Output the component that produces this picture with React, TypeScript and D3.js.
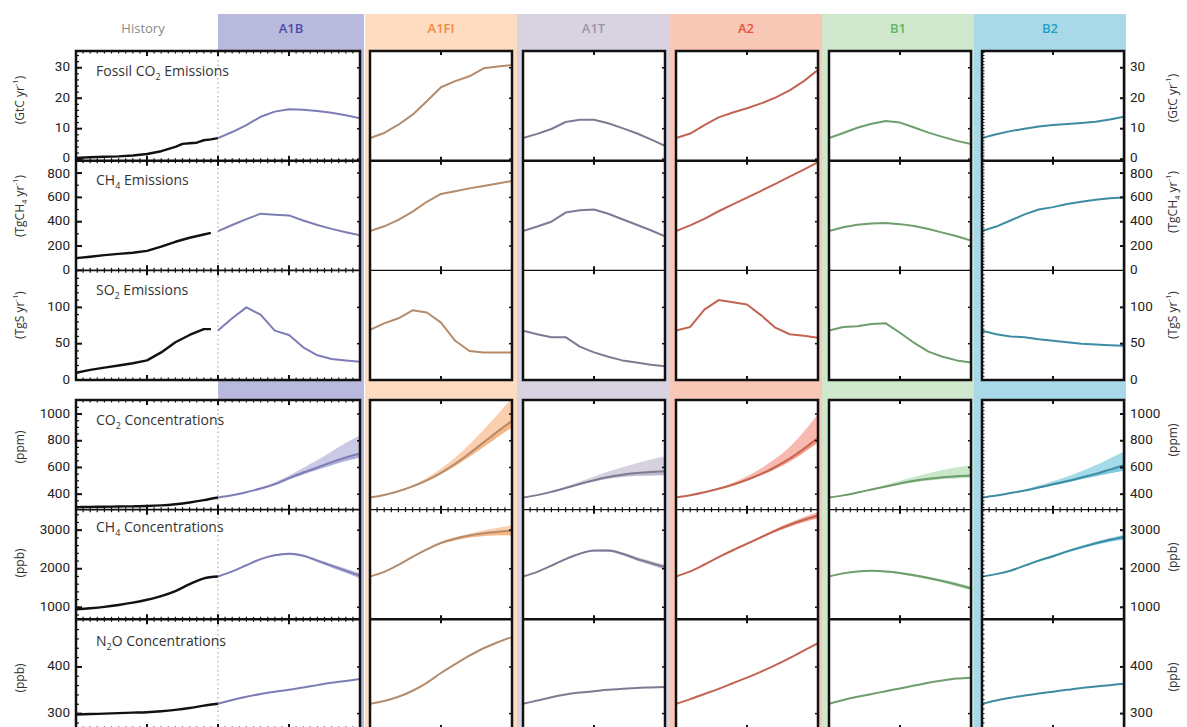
import React from "react";
import * as d3 from "d3";

// ---------------- categories ----------------
const scenarioNames = ["A1B", "A1FI", "A1T", "A2", "B1", "B2"];
const scenarioYears = [2000, 2010, 2020, 2030, 2040, 2050, 2060, 2070, 2080, 2090, 2100];

// ---------------- history ----------------
const histFossilYears = [1900, 1910, 1920, 1930, 1940, 1950, 1960, 1970, 1975, 1980, 1985, 1990, 1995, 2000];
const histFossil = [0.4, 0.6, 0.8, 0.9, 1.2, 1.7, 2.6, 4.0, 5.0, 5.2, 5.4, 6.2, 6.5, 6.9];
const histEmYears = [1900, 1910, 1920, 1930, 1940, 1950, 1960, 1970, 1980, 1990, 1995];
const histCh4Em = [100, 112, 125, 135, 145, 160, 195, 235, 268, 295, 308];
const histSo2 = [10, 14, 17, 20, 23, 27, 38, 52, 62, 70, 70];
const histConcYears = [1900, 1910, 1920, 1930, 1940, 1950, 1960, 1970, 1980, 1990, 2000];
const histCo2Conc = [303, 305, 306, 308, 309, 311, 316, 325, 338, 355, 375];
const histCh4Conc = [950, 975, 1010, 1060, 1120, 1195, 1290, 1420, 1600, 1750, 1800];
const histN2oConc = [298, 299, 300, 301, 302, 303, 305, 308, 312, 317, 321];

// ---------------- fossil CO2 emissions (GtC/yr) ----------------
const fossilA1B = [6.9, 8.9, 11.2, 13.9, 15.6, 16.4, 16.2, 15.8, 15.2, 14.4, 13.4];
const fossilA1FI = [6.9, 8.6, 11.3, 14.6, 19.0, 23.6, 25.6, 27.2, 29.8, 30.4, 30.9];
const fossilA1T = [6.9, 8.3, 9.9, 12.2, 12.9, 12.9, 11.8, 10.2, 8.5, 6.5, 4.4];
const fossilA2 = [6.9, 8.4, 11.2, 13.7, 15.3, 16.7, 18.3, 20.2, 22.6, 25.6, 29.3];
const fossilB1 = [6.9, 8.6, 10.3, 11.6, 12.5, 12.0, 10.4, 8.7, 7.3, 6.0, 5.0];
const fossilB2 = [6.9, 8.2, 9.2, 10.0, 10.7, 11.2, 11.5, 11.9, 12.3, 13.0, 13.9];

// ---------------- CH4 emissions (TgCH4/yr) ----------------
const ch4EmA1B = [323, 373, 421, 466, 458, 452, 410, 373, 341, 314, 289];
const ch4EmA1FI = [323, 362, 415, 483, 564, 628, 651, 674, 693, 714, 735];
const ch4EmA1T = [323, 360, 400, 475, 495, 500, 465, 420, 375, 330, 280];
const ch4EmA2 = [323, 370, 424, 486, 542, 598, 654, 711, 770, 829, 889];
const ch4EmB1 = [323, 355, 375, 385, 390, 380, 365, 340, 310, 280, 245];
const ch4EmB2 = [323, 360, 410, 460, 500, 520, 545, 565, 580, 592, 600];

// ---------------- SO2 emissions (TgS/yr) ----------------
const so2A1B = [68, 85, 100, 90, 68, 62, 45, 34, 29, 27, 25];
const so2A1FI = [69, 78, 85, 96, 93, 79, 54, 40, 38, 38, 38];
const so2A1T = [68, 63, 59, 59, 46, 38, 32, 27, 24, 21, 19];
const so2A2 = [68, 73, 97, 110, 107, 104, 89, 72, 63, 61, 58];
const so2B1 = [68, 73, 74, 77, 78, 65, 51, 39, 32, 27, 24];
const so2B2 = [68, 63, 60, 59, 56, 54, 52, 50, 49, 48, 47];

// ---------------- CO2 concentrations (ppm): central, low, high ----------------
const co2A1B = [375, 392, 415, 442, 475, 520, 562, 600, 640, 675, 705];
const co2A1BLow = [375, 391, 413, 437, 467, 510, 548, 582, 617, 648, 675];
const co2A1BHigh = [375, 393, 418, 450, 490, 540, 595, 655, 720, 785, 842];
const co2A1FI = [375, 394, 422, 458, 504, 560, 628, 705, 788, 870, 950];
const co2A1FILow = [375, 393, 420, 454, 497, 549, 611, 681, 754, 828, 900];
const co2A1FIHigh = [375, 395, 426, 468, 522, 590, 674, 772, 882, 998, 1120];
const co2A1T = [375, 393, 417, 446, 476, 504, 528, 546, 558, 566, 571];
const co2A1TLow = [375, 392, 415, 442, 470, 495, 515, 529, 537, 540, 541];
const co2A1THigh = [375, 394, 421, 455, 494, 532, 569, 602, 632, 659, 683];
const co2A2 = [375, 392, 414, 440, 471, 508, 552, 605, 667, 740, 822];
const co2A2Low = [375, 391, 412, 437, 466, 500, 541, 589, 645, 712, 787];
const co2A2High = [375, 393, 417, 448, 486, 535, 594, 667, 754, 867, 1002];
const co2B1 = [375, 391, 412, 435, 457, 480, 500, 515, 527, 535, 540];
const co2B1Low = [375, 390, 409, 431, 451, 472, 490, 503, 514, 520, 525];
const co2B1High = [375, 392, 415, 443, 471, 501, 531, 557, 581, 601, 616];
const co2B2 = [375, 390, 408, 427, 450, 474, 498, 525, 552, 584, 616];
const co2B2Low = [375, 389, 406, 423, 444, 466, 488, 511, 534, 557, 578];
const co2B2High = [375, 391, 411, 435, 464, 497, 532, 572, 617, 667, 720];

// ---------------- CH4 concentrations (ppb): central, low, high ----------------
const ch4A1B = [1800, 1930, 2090, 2250, 2350, 2390, 2340, 2210, 2080, 1950, 1820];
const ch4A1BLow = [1800, 1925, 2080, 2235, 2330, 2365, 2310, 2175, 2035, 1895, 1750];
const ch4A1BHigh = [1800, 1935, 2100, 2265, 2370, 2415, 2370, 2245, 2125, 2005, 1890];
const ch4A1FI = [1800, 1920, 2100, 2310, 2500, 2670, 2780, 2860, 2920, 2960, 2990];
const ch4A1FILow = [1800, 1915, 2090, 2295, 2480, 2640, 2740, 2810, 2850, 2870, 2870];
const ch4A1FIHigh = [1800, 1925, 2110, 2325, 2520, 2700, 2820, 2910, 2990, 3060, 3120];
const ch4A1T = [1800, 1920, 2080, 2250, 2390, 2470, 2470, 2390, 2260, 2150, 2045];
const ch4A1TLow = [1800, 1915, 2070, 2235, 2370, 2445, 2440, 2355, 2215, 2100, 1980];
const ch4A1THigh = [1800, 1925, 2090, 2265, 2410, 2495, 2500, 2425, 2305, 2200, 2110];
const ch4A2 = [1800, 1930, 2110, 2300, 2480, 2650, 2820, 2990, 3140, 3270, 3390];
const ch4A2Low = [1800, 1925, 2100, 2285, 2460, 2625, 2790, 2950, 3090, 3210, 3310];
const ch4A2High = [1800, 1935, 2120, 2315, 2500, 2675, 2850, 3030, 3190, 3340, 3480];
const ch4B1 = [1800, 1880, 1930, 1945, 1930, 1890, 1830, 1760, 1680, 1590, 1490];
const ch4B1Low = [1800, 1875, 1920, 1930, 1910, 1865, 1800, 1725, 1640, 1545, 1440];
const ch4B1High = [1800, 1885, 1940, 1960, 1950, 1915, 1860, 1795, 1720, 1635, 1540];
const ch4B2 = [1800, 1860, 1950, 2080, 2210, 2325, 2450, 2560, 2660, 2750, 2825];
const ch4B2Low = [1800, 1855, 1940, 2065, 2190, 2300, 2420, 2525, 2620, 2700, 2760];
const ch4B2High = [1800, 1865, 1960, 2095, 2230, 2350, 2480, 2595, 2700, 2800, 2890];

// ---------------- N2O concentrations (ppb) ----------------
const n2oA1B = [321, 329, 336, 342, 347, 351, 356, 361, 366, 370, 374];
const n2oA1FI = [321, 327, 336, 349, 366, 387, 406, 424, 440, 453, 464];
const n2oA1T = [321, 328, 335, 341, 345, 348, 351, 353, 355, 356, 357];
const n2oA2 = [321, 331, 342, 353, 365, 377, 390, 404, 419, 435, 451];
const n2oB1 = [321, 329, 336, 342, 348, 354, 360, 366, 371, 375, 377];
const n2oB2 = [321, 328, 334, 339, 343, 347, 351, 355, 358, 361, 364];

// ---------------- axes ----------------
const rowDomains = [[-0.5, 35.5], [0, 902], [0, 151], [284, 1105], [688, 3532], [267, 502]];
const rowTicks = [[0, 10, 20, 30], [0, 200, 400, 600, 800], [0, 50, 100], [400, 600, 800, 1000], [1000, 2000, 3000], [300, 400]];
const rowMinorStep = [2, 100, 10, 50, 200, 20];
const rowFineStep = [1, 25, 5, 25, 100, 10];
const titleMain = ["Fossil CO", "CH", "SO", "CO", "CH", "N"];
const titleSub = ["2", "4", "2", "2", "4", "2"];
const titleRest = [" Emissions", " Emissions", " Emissions", " Concentrations", " Concentrations", "O Concentrations"];
type Part = { t: string; s?: "sub" | "sup" };
const unitParts: Part[][] = [
  [{ t: "(GtC yr" }, { t: "-1", s: "sup" }, { t: ")" }],
  [{ t: "(TgCH" }, { t: "4", s: "sub" }, { t: " yr" }, { t: "-1", s: "sup" }, { t: ")" }],
  [{ t: "(TgS yr" }, { t: "-1", s: "sup" }, { t: ")" }],
  [{ t: "(ppm)" }],
  [{ t: "(ppb)" }],
  [{ t: "(ppb)" }],
];

// tables built from the arrays above
const mids = [
  [fossilA1B, fossilA1FI, fossilA1T, fossilA2, fossilB1, fossilB2],
  [ch4EmA1B, ch4EmA1FI, ch4EmA1T, ch4EmA2, ch4EmB1, ch4EmB2],
  [so2A1B, so2A1FI, so2A1T, so2A2, so2B1, so2B2],
  [co2A1B, co2A1FI, co2A1T, co2A2, co2B1, co2B2],
  [ch4A1B, ch4A1FI, ch4A1T, ch4A2, ch4B1, ch4B2],
  [n2oA1B, n2oA1FI, n2oA1T, n2oA2, n2oB1, n2oB2],
];
const lows: (number[][] | null)[] = [null, null, null,
  [co2A1BLow, co2A1FILow, co2A1TLow, co2A2Low, co2B1Low, co2B2Low],
  [ch4A1BLow, ch4A1FILow, ch4A1TLow, ch4A2Low, ch4B1Low, ch4B2Low], null];
const highs: (number[][] | null)[] = [null, null, null,
  [co2A1BHigh, co2A1FIHigh, co2A1THigh, co2A2High, co2B1High, co2B2High],
  [ch4A1BHigh, ch4A1FIHigh, ch4A1THigh, ch4A2High, ch4B1High, ch4B2High], null];
const history = [
  { years: histFossilYears, values: histFossil },
  { years: histEmYears, values: histCh4Em },
  { years: histEmYears, values: histSo2 },
  { years: histConcYears, values: histCo2Conc },
  { years: histConcYears, values: histCh4Conc },
  { years: histConcYears, values: histN2oConc },
];

// ---------------- styles / layout ----------------
const headerText = ["#4b4ba6", "#f08a3c", "#9d93a9", "#e9523c", "#5cb85c", "#1e9fc2"];
const headerBg = ["#b9b9dd", "#fddcc1", "#d9d2e0", "#f9c7b6", "#cfe7cd", "#a9d9e8"];
const lineCol = ["#7d7db6", "#b48c6c", "#7b7b93", "#c2644f", "#6e9d6e", "#3e8ca4"];
const bandCol = ["#9e9ed2", "#f7a66a", "#b6aac3", "#f2816f", "#9fd39e", "#5bbcd5"];
const bandX0 = [218, 365, 517, 670, 822, 974];
const bandX1 = [364, 517, 670, 822, 974, 1126];
const colX0 = [76, 370, 523, 676, 829, 982];
const colW = [284, 142, 142, 142, 142, 142];
const EM_TOP = 51, EM_BOT = 380, CO_TOP = 400, CO_BOT = 729;
const RH = (EM_BOT - EM_TOP) / 3;
const rowTop = (r: number) => (r < 3 ? EM_TOP + r * RH : CO_TOP + (r - 3) * RH);
const rowBot = (r: number) => rowTop(r) + RH;
const titleY = [76, 185, 295, 425, 532, 646];
const leftUnitY = [100, 206, 315, 447, 563, 678];
const rightUnitY = [98, 202, 315, 440, 557, 677];
const FONT = "'Open Sans', 'DejaVu Sans', sans-serif";
const TICK_FONT = "Roboto, 'Open Sans', sans-serif";

function PartsText({ parts, x, y, size, rotate }: { parts: Part[]; x: number; y: number; size: number; rotate?: boolean }) {
  let cur = 0;
  const spans = parts.map((p, i) => {
    const target = p.s === "sub" ? size * 0.3 : p.s === "sup" ? -size * 0.4 : 0;
    const dy = target - cur;
    cur = target;
    return (
      <tspan key={i} dy={dy} fontSize={p.s ? size * 0.65 : size}>
        {p.t}
      </tspan>
    );
  });
  return (
    <text x={0} y={0} fontSize={size} fill="#333" textAnchor="middle" dominantBaseline="middle"
      transform={`translate(${x},${y})${rotate ? " rotate(-90)" : ""}`}>
      {spans}
    </text>
  );
}

// tiny nudges so stacked labels at shared row borders don't collide
const labelNudge = (r: number, v: number) => (r === 0 && v === 0 ? -1.2 : r === 1 && v === 800 ? 1.2 : 0);

export default function App() {
  const W = 1187, H = 727;
  const xScales = colX0.map((x0, c) =>
    d3.scaleLinear().domain(c === 0 ? [1900, 2100] : [2000, 2100]).range([x0, x0 + colW[c]]));
  const yScales = rowDomains.map((dom, r) => d3.scaleLinear().domain(dom).range([rowBot(r), rowTop(r)]));

  const cells: React.ReactNode[] = [];
  const ticks: React.ReactNode[] = [];

  for (let r = 0; r < 6; r++) {
    const y = yScales[r];
    const smooth = r >= 3;
    for (let c = 0; c < 6; c++) {
      const x = xScales[c];
      const clipId = `clip-${r}-${c}`;
      const line = d3.line<number>()
        .x((_, i) => x(scenarioYears[i]))
        .y((v) => y(v))
        .curve(smooth ? d3.curveMonotoneX : d3.curveLinear);
      const items: React.ReactNode[] = [];
      const lo = lows[r], hi = highs[r];
      if (lo && hi) {
        const area = d3.area<number>()
          .x((_, i) => x(scenarioYears[i]))
          .y0((_, i) => y(lo[c][i]))
          .y1((_, i) => y(hi[c][i]))
          .curve(d3.curveMonotoneX);
        const inner = d3.area<number>()
          .x((_, i) => x(scenarioYears[i]))
          .y0((_, i) => y(lo[c][i]))
          .y1((_, i) => y(mids[r][c][i]))
          .curve(d3.curveMonotoneX);
        items.push(<path key="band" d={area(scenarioYears) || ""} fill={bandCol[c]} opacity={0.55} />);
        items.push(<path key="inner" d={inner(scenarioYears) || ""} fill={bandCol[c]} opacity={0.6} />);
      }
      if (c === 0) {
        const h = history[r];
        const hl = d3.line<number>()
          .x((_, i) => x(h.years[i]))
          .y((v) => y(v))
          .curve(smooth ? d3.curveMonotoneX : d3.curveLinear);
        items.push(<path key="hist" d={hl(h.values) || ""} fill="none" stroke="#111" strokeWidth={2.4} strokeLinejoin="round" />);
      }
      items.push(<path key="mid" d={line(mids[r][c]) || ""} fill="none" stroke={lineCol[c]} strokeWidth={2} strokeLinejoin="round" />);
      cells.push(
        <g key={clipId}>
          <clipPath id={clipId}>
            <rect x={colX0[c]} y={rowTop(r)} width={colW[c]} height={RH} />
          </clipPath>
          <g clipPath={`url(#${clipId})`}>{items}</g>
        </g>
      );

      // horizontal-edge ticks
      const t = rowTop(r), b = rowBot(r);
      const x0 = colX0[c];
      if (c === 0) {
        d3.range(1905, 2100, 5).forEach((yr) => {
          const major = yr % 50 === 0;
          const len = major ? 5 : 2.5;
          const xx = x(yr);
          ticks.push(<line key={`tt${r}-${c}-${yr}`} x1={xx} x2={xx} y1={t} y2={t + len} stroke="#111" strokeWidth={major ? 2 : 1.2} />);
          ticks.push(<line key={`tb${r}-${c}-${yr}`} x1={xx} x2={xx} y1={b} y2={b - len} stroke="#111" strokeWidth={major ? 2 : 1.2} />);
        });
        // left axis ticks
        const [d0, d1] = rowDomains[r];
        d3.range(Math.ceil(d0 / rowMinorStep[r]) * rowMinorStep[r], d1, rowMinorStep[r]).forEach((v) => {
          const yy = y(v);
          if (yy > b - 1 || yy < t + 1) return;
          ticks.push(<line key={`lm${r}-${v}`} x1={x0} x2={x0 + 3} y1={yy} y2={yy} stroke="#111" strokeWidth={1.2} />);
        });
        rowTicks[r].forEach((v) => {
          const yy = y(v);
          ticks.push(<line key={`lM${r}-${v}`} x1={x0} x2={x0 + 6} y1={yy} y2={yy} stroke="#111" strokeWidth={2} />);
        });
      } else {
        const xx = x(2050);
        ticks.push(<line key={`tt${r}-${c}`} x1={xx} x2={xx} y1={t} y2={t + 4} stroke="#111" strokeWidth={2} />);
        ticks.push(<line key={`tb${r}-${c}`} x1={xx} x2={xx} y1={b} y2={b - 4} stroke="#111" strokeWidth={2} />);
        if (r === 3 || r === 4) {
          d3.range(2005, 2100, 5).forEach((yr) => {
            if (yr === 2050) return;
            const xm = x(yr);
            const yy = r === 3 ? b : t;
            const dir = r === 3 ? -1 : 1;
            ticks.push(<line key={`tm${r}-${c}-${yr}`} x1={xm} x2={xm} y1={yy} y2={yy + dir * 2.5} stroke="#111" strokeWidth={1.2} />);
          });
        }
        if (c === 5) {
          const [d0, d1] = rowDomains[r];
          d3.range(Math.ceil(d0 / rowFineStep[r]) * rowFineStep[r], d1, rowFineStep[r]).forEach((v) => {
            const yy = y(v);
            if (yy > b - 1 || yy < t + 1) return;
            ticks.push(<line key={`bf${r}-${v}`} x1={x0} x2={x0 + 2.5} y1={yy} y2={yy} stroke="#111" strokeWidth={1} />);
          });
        }
      }
      // right edge ticks
      const xr = colX0[c] + colW[c];
      rowTicks[r].forEach((v) => {
        const yy = y(v);
        if (yy > b - 1 || yy < t + 1) return;
        ticks.push(<line key={`rt${r}-${c}-${v}`} x1={xr} x2={xr - (c === 5 ? 4 : 3)} y1={yy} y2={yy} stroke="#111" strokeWidth={c === 5 ? 2 : 1.5} />);
      });
    }
  }

  // frames and separators
  const frames: React.ReactNode[] = [];
  for (let c = 0; c < 6; c++) {
    const x0 = colX0[c], x1 = colX0[c] + colW[c];
    frames.push(<rect key={`fe${c}`} x={x0} y={EM_TOP} width={colW[c]} height={EM_BOT - EM_TOP} fill="none" stroke="#111" strokeWidth={2.5} />);
    frames.push(<rect key={`fc${c}`} x={x0} y={CO_TOP} width={colW[c]} height={CO_BOT - CO_TOP} fill="none" stroke="#111" strokeWidth={2.5} />);
    frames.push(<line key={`s0${c}`} x1={x0} x2={x1} y1={rowBot(0)} y2={rowBot(0)} stroke="#111" strokeWidth={2.5} />);
    frames.push(<line key={`s1${c}`} x1={x0} x2={x1} y1={rowBot(1)} y2={rowBot(1)} stroke="#111" strokeWidth={c === 0 ? 1.6 : 1.2} />);
    frames.push(<line key={`s3${c}`} x1={x0} x2={x1} y1={rowBot(3)} y2={rowBot(3)} stroke="#111" strokeWidth={c === 0 ? 1.6 : 1.2} />);
    frames.push(<line key={`s4${c}`} x1={x0} x2={x1} y1={rowBot(4)} y2={rowBot(4)} stroke="#111" strokeWidth={2.5} />);
  }

  const x2000 = xScales[0](2000);

  return (
    <svg width={W} height={H} style={{ position: "absolute", left: 0, top: 0, background: "#fff" }} fontFamily={FONT}>
      <rect x={0} y={0} width={W} height={H} fill="#fff" />
      {scenarioNames.map((s, c) => (
        <rect key={`bg${s}`} x={bandX0[c]} y={14} width={bandX1[c] - bandX0[c]} height={H - 14} fill={headerBg[c]} />
      ))}
      {colX0.map((x0, c) => (
        <g key={`w${c}`}>
          <rect x={x0} y={EM_TOP} width={colW[c]} height={EM_BOT - EM_TOP} fill="#fff" />
          <rect x={x0} y={CO_TOP} width={colW[c]} height={CO_BOT - CO_TOP} fill="#fff" />
        </g>
      ))}
      <line x1={x2000} x2={x2000} y1={EM_TOP} y2={EM_BOT} stroke="#9a9a9a" strokeWidth={1} strokeDasharray="1.5,3" />
      <line x1={x2000} x2={x2000} y1={CO_TOP} y2={CO_BOT} stroke="#9a9a9a" strokeWidth={1} strokeDasharray="1.5,3" />
      {cells}
      {frames}
      {ticks}
      {/* header labels */}
      <text x={143} y={33} fontSize={13} fill="#8a8a8a" textAnchor="middle">History</text>
      {scenarioNames.map((s, c) => (
        <text key={`h${s}`} x={(bandX0[c] + bandX1[c]) / 2} y={33} fontSize={13} fontWeight={600} fill={headerText[c]} textAnchor="middle">{s}</text>
      ))}
      {/* row titles */}
      {titleMain.map((m, r) => (
        <text key={`ti${r}`} x={96} y={titleY[r]} fontSize={14} fill="#333">
          {m}
          <tspan fontSize={9} dy={4}>{titleSub[r]}</tspan>
          <tspan dy={-4}>{titleRest[r]}</tspan>
        </text>
      ))}
      {/* tick labels */}
      {rowTicks.map((tv, r) =>
        tv.map((v) => (
          <g key={`tl${r}-${v}`} fontFamily={TICK_FONT}>
            <text x={70} y={yScales[r](v) + labelNudge(r, v)} fontSize={13.5} fill="#222" textAnchor="end" dominantBaseline="middle">{v}</text>
            <text x={1130} y={yScales[r](v) + labelNudge(r, v)} fontSize={13.5} fill="#222" textAnchor="start" dominantBaseline="middle">{v}</text>
          </g>
        ))
      )}
      {/* unit labels */}
      {unitParts.map((p, r) => (
        <g key={`u${r}`}>
          <PartsText parts={p} x={21} y={leftUnitY[r]} size={12} rotate />
          <PartsText parts={p} x={1174} y={rightUnitY[r]} size={12} rotate />
        </g>
      ))}
    </svg>
  );
}
